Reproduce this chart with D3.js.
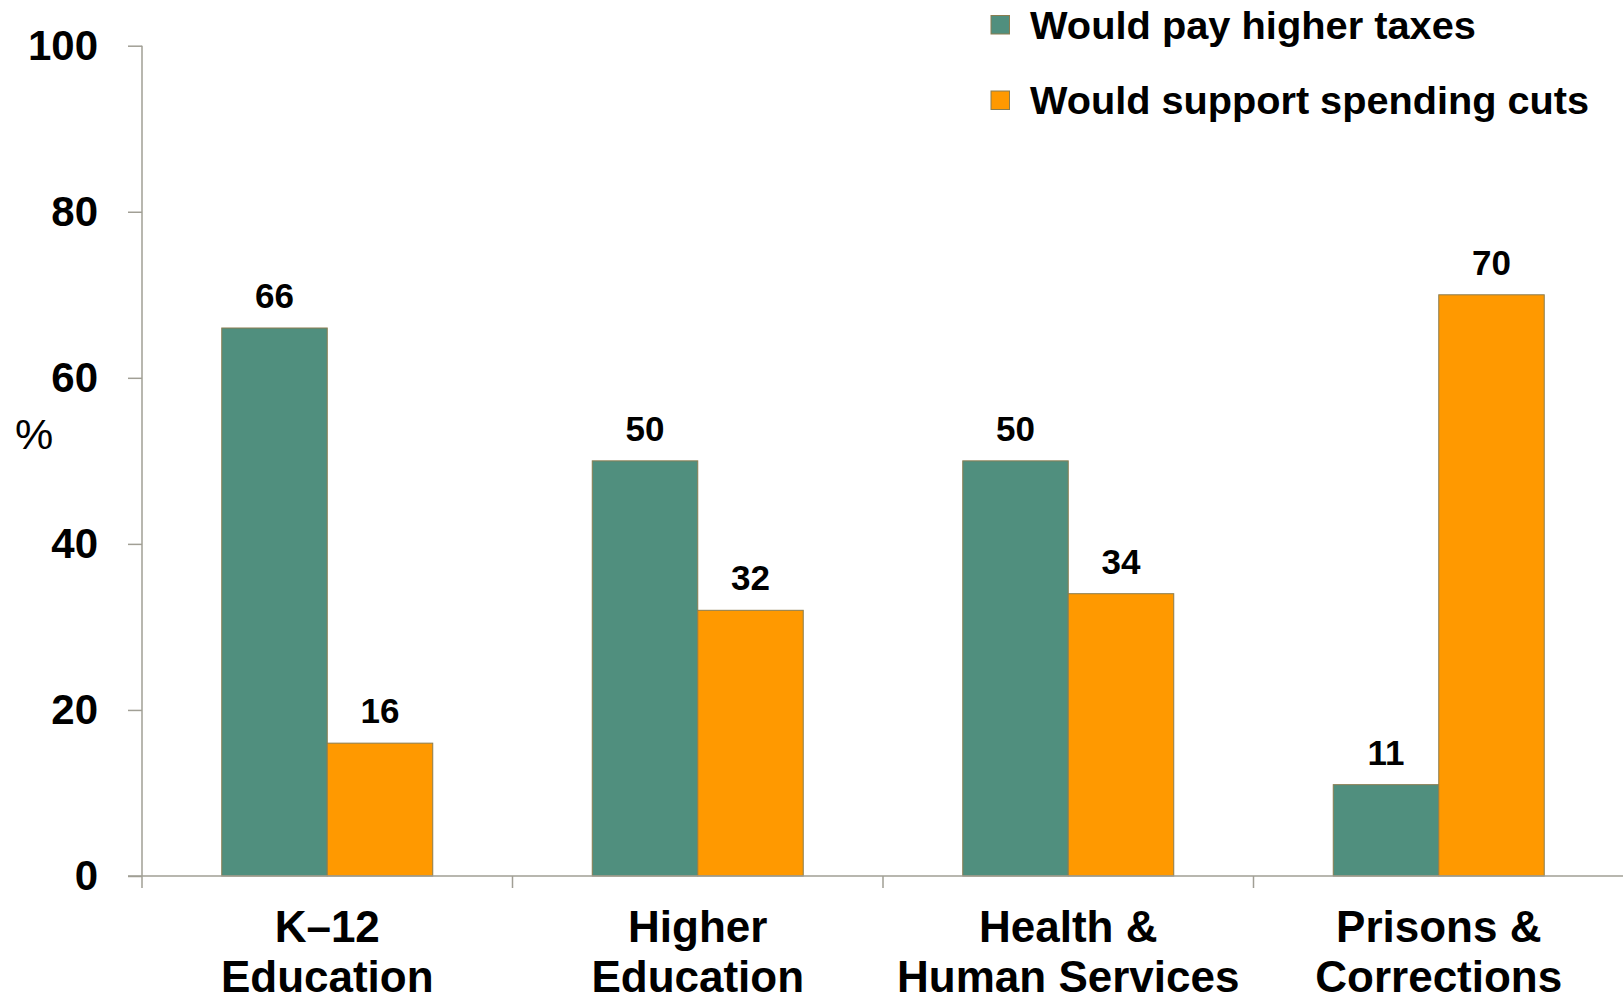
<!DOCTYPE html>
<html>
<head>
<meta charset="utf-8">
<script src="https://cdn.jsdelivr.net/npm/d3@7"></script>
<style>
  html, body { margin: 0; padding: 0; background: #fff; }
  svg { display: block; font-family: "Liberation Sans", Arial, sans-serif; font-weight: bold; }
</style>
</head>
<body>
<svg id="chart" width="1623" height="995"></svg>
<script>
const categories = [["K\u201312", "Education"], ["Higher", "Education"], ["Health &", "Human Services"], ["Prisons &", "Corrections"]]
const seriesNames = ["Would pay higher taxes", "Would support spending cuts"]
const payTaxes = [66, 50, 50, 11]
const spendingCuts = [16, 32, 34, 70]
const yTicks = [0, 20, 40, 60, 80, 100]

const colors = ["#508f7e", "#ff9900"]
const edge = "#8a7d50"
const axisColor = "#a19f95"

const svg = d3.select("#chart")
const catKeys = categories.map((c, i) => i)

const x0 = d3.scaleBand().domain(catKeys).range([142, 1624]).paddingInner(0).paddingOuter(0)
const x1 = d3.scaleBand().domain([0, 1]).range([0, x0.bandwidth()]).paddingInner(0).paddingOuter(0.756)
const y = d3.scaleLinear().domain([0, 100]).range([876, 45.7])

const rows = catKeys.map((i) => ({ i, values: [payTaxes[i], spendingCuts[i]] }))

// bars
const groups = svg.append("g").selectAll("g").data(rows).join("g")
  .attr("transform", (d) => `translate(${x0(d.i)},0)`)

groups.selectAll("rect").data((d) => d.values.map((v, s) => ({ v, s }))).join("rect")
  .attr("x", (d) => x1(d.s))
  .attr("y", (d) => y(d.v))
  .attr("width", x1.bandwidth())
  .attr("height", (d) => y(0) - y(d.v))
  .attr("fill", (d) => colors[d.s])
  .attr("stroke", edge)
  .attr("stroke-width", 1)

groups.selectAll("text.val").data((d) => d.values.map((v, s) => ({ v, s }))).join("text")
  .attr("class", "val")
  .attr("x", (d) => x1(d.s) + x1.bandwidth() / 2)
  .attr("y", (d) => y(d.v) - 20)
  .attr("text-anchor", "middle")
  .attr("font-size", 35)
  .text((d) => d.v)

// y axis
const yAxis = d3.axisLeft(y).tickValues(yTicks).tickSize(14).tickPadding(30)
const gy = svg.append("g").attr("transform", "translate(142,0)").call(yAxis)
gy.select(".domain").remove()
gy.selectAll(".tick line").attr("stroke", axisColor).attr("stroke-width", 1.5)
gy.selectAll(".tick text").attr("font-size", 42).attr("font-family", "Liberation Sans, Arial, sans-serif").attr("font-weight", "bold").attr("fill", "#000")
svg.append("line").attr("x1", 142).attr("x2", 142).attr("y1", y(100)).attr("y2", y(0) + 12)
  .attr("stroke", axisColor).attr("stroke-width", 1.5)

// x axis
svg.append("line").attr("x1", 128).attr("x2", 1623).attr("y1", y(0)).attr("y2", y(0))
  .attr("stroke", axisColor).attr("stroke-width", 1.5)
svg.append("g").selectAll("line").data(catKeys.slice(1)).join("line")
  .attr("x1", (d) => x0(d)).attr("x2", (d) => x0(d))
  .attr("y1", y(0)).attr("y2", y(0) + 12)
  .attr("stroke", axisColor).attr("stroke-width", 1.5)

const catLabels = svg.append("g").selectAll("text").data(catKeys).join("text")
  .attr("x", (d) => x0(d) + x0.bandwidth() / 2)
  .attr("y", 942)
  .attr("text-anchor", "middle")
  .attr("font-size", 44)
catLabels.selectAll("tspan").data((d) => categories[d]).join("tspan")
  .attr("x", function () { return this.parentNode.getAttribute("x") })
  .attr("dy", (d, i) => (i === 0 ? 0 : 50))
  .text((d) => d)

// y title
svg.append("text").attr("x", 34).attr("y", 449).attr("text-anchor", "middle")
  .attr("font-size", 43).attr("font-weight", "normal").text("%")

// legend
const legend = svg.append("g").selectAll("g").data(seriesNames).join("g")
  .attr("transform", (d, i) => `translate(991,${15.5 + i * 75.5})`)
legend.append("rect").attr("width", 18.5).attr("height", 18.5)
  .attr("fill", (d, i) => colors[i]).attr("stroke", edge).attr("stroke-width", 1)
legend.append("text").attr("x", 39).attr("y", 23)
  .attr("font-size", 38)
  .attr("textLength", (d, i) => (i === 0 ? 446 : 559))
  .attr("lengthAdjust", "spacingAndGlyphs")
  .text((d) => d)
</script>
</body>
</html>
